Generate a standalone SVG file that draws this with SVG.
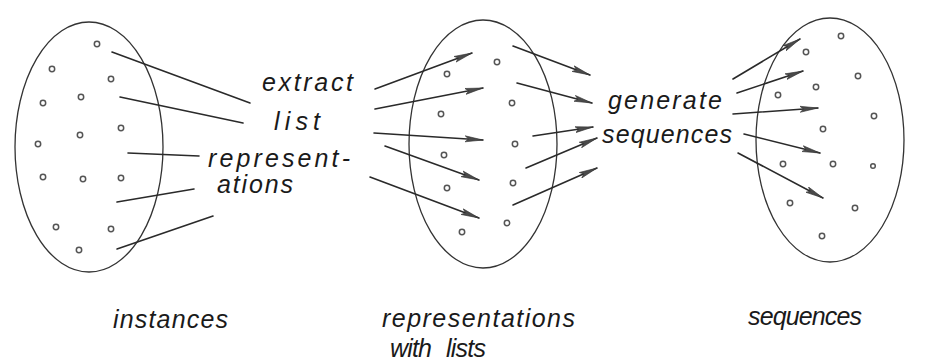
<svg xmlns="http://www.w3.org/2000/svg" width="927" height="364" viewBox="0 0 927 364">
  <style>
    .set { fill: none; stroke: #333; stroke-width: 1.3; }
    .pt { fill: #fff; stroke: #555; stroke-width: 1.5; }
    .ln { fill: none; stroke: #2a2a2a; stroke-width: 1.6; stroke-linecap: round; }
    .arr { marker-end: url(#head); }
    .lbl { font-family: "Liberation Sans", Arial, sans-serif; font-style: italic; font-size: 25px; fill: #1a1a1a; }
  </style>
  <defs>
    <marker id="head" markerUnits="userSpaceOnUse" markerWidth="19" markerHeight="8" viewBox="0 0 19 8" refX="18" refY="4" orient="auto">
      <path d="M0,1 L18,4 L0,7 L3.5,4 Z" fill="#4a4a4a" stroke="#333" stroke-width="0.6"/>
    </marker>
  </defs>

  <!-- set of instances -->
  <g id="instances">
    <ellipse class="set" cx="89" cy="147" rx="74" ry="125"/>
    <g>
      <circle class="pt" cx="97" cy="44" r="2.7"/>
      <circle class="pt" cx="52" cy="69" r="2.7"/>
      <circle class="pt" cx="111" cy="79" r="2.7"/>
      <circle class="pt" cx="43" cy="103" r="2.7"/>
      <circle class="pt" cx="81" cy="97" r="2.7"/>
      <circle class="pt" cx="121" cy="128" r="2.7"/>
      <circle class="pt" cx="80" cy="135" r="2.7"/>
      <circle class="pt" cx="38" cy="144" r="2.7"/>
      <circle class="pt" cx="43" cy="177" r="2.7"/>
      <circle class="pt" cx="83" cy="179" r="2.7"/>
      <circle class="pt" cx="121" cy="178" r="2.7"/>
      <circle class="pt" cx="56" cy="227" r="2.7"/>
      <circle class="pt" cx="111" cy="229" r="2.7"/>
      <circle class="pt" cx="79" cy="250" r="2.7"/>
    </g>
    <text class="lbl" x="113" y="328" textLength="115" lengthAdjust="spacing">instances</text>
  </g>

  <!-- set of representations with lists -->
  <g id="representations">
    <ellipse class="set" cx="483" cy="144" rx="74" ry="124"/>
    <g>
      <circle class="pt" cx="497" cy="62" r="2.7"/>
      <circle class="pt" cx="447" cy="74" r="2.7"/>
      <circle class="pt" cx="512" cy="103" r="2.7"/>
      <circle class="pt" cx="441" cy="114" r="2.7"/>
      <circle class="pt" cx="515" cy="144" r="2.7"/>
      <circle class="pt" cx="444" cy="155" r="2.7"/>
      <circle class="pt" cx="513" cy="183" r="2.7"/>
      <circle class="pt" cx="447" cy="188" r="2.7"/>
      <circle class="pt" cx="507" cy="223" r="2.7"/>
      <circle class="pt" cx="462" cy="232" r="2.7"/>
    </g>
    <text class="lbl" x="382" y="327" textLength="193" lengthAdjust="spacing">representations</text>
    <text class="lbl" x="390" y="357" textLength="42" lengthAdjust="spacing">with</text>
    <text class="lbl" x="446" y="357" textLength="40" lengthAdjust="spacing">lists</text>
  </g>

  <!-- set of sequences -->
  <g id="sequences">
    <ellipse class="set" cx="830" cy="140" rx="74" ry="122"/>
    <g>
      <circle class="pt" cx="841" cy="36" r="2.7"/>
      <circle class="pt" cx="806" cy="52" r="2.7"/>
      <circle class="pt" cx="858" cy="76" r="2.7"/>
      <circle class="pt" cx="816" cy="87" r="2.7"/>
      <circle class="pt" cx="778" cy="95" r="2.7"/>
      <circle class="pt" cx="874" cy="116" r="2.7"/>
      <circle class="pt" cx="823" cy="129" r="2.7"/>
      <circle class="pt" cx="833" cy="164" r="2.7"/>
      <circle class="pt" cx="783" cy="164" r="2.7"/>
      <circle class="pt" cx="873" cy="166" r="2.3"/>
      <circle class="pt" cx="790" cy="203" r="2.7"/>
      <circle class="pt" cx="855" cy="208" r="2.7"/>
      <circle class="pt" cx="822" cy="236" r="2.7"/>
    </g>
    <text class="lbl" x="748" y="325" textLength="114" lengthAdjust="spacing">sequences</text>
  </g>

  <!-- step: extract list representations -->
  <g id="extract-step">
    <text class="lbl" x="262" y="91" textLength="91" lengthAdjust="spacing">extract</text>
    <text class="lbl" x="274" y="130" textLength="46" lengthAdjust="spacing">list</text>
    <text class="lbl" x="208" y="167" textLength="142" lengthAdjust="spacing">represent-</text>
    <text class="lbl" x="217" y="193" textLength="76" lengthAdjust="spacing">ations</text>
  </g>

  <!-- step: generate sequences -->
  <g id="generate-step">
    <text class="lbl" x="608" y="109" textLength="114" lengthAdjust="spacing">generate</text>
    <text class="lbl" x="602" y="143" textLength="130" lengthAdjust="spacing">sequences</text>
  </g>

  <g id="connectors">
    <!-- instances to the extract step -->
    <line class="ln" x1="112" y1="52" x2="250" y2="103"/>
    <line class="ln" x1="120" y1="97" x2="243" y2="123"/>
    <line class="ln" x1="128" y1="153" x2="199" y2="156"/>
    <line class="ln" x1="117" y1="202" x2="194" y2="189"/>
    <line class="ln" x1="117" y1="249" x2="213" y2="216"/>
    <!-- extract step into representations -->
    <line class="ln arr" x1="375" y1="89" x2="472" y2="53"/>
    <line class="ln arr" x1="375" y1="109" x2="483" y2="88"/>
    <line class="ln arr" x1="374" y1="133" x2="483" y2="140"/>
    <line class="ln arr" x1="385" y1="146" x2="479" y2="180"/>
    <line class="ln arr" x1="370" y1="177" x2="479" y2="218"/>
    <!-- representations to the generate step -->
    <line class="ln arr" x1="513" y1="46" x2="590" y2="75"/>
    <line class="ln arr" x1="517" y1="83" x2="592" y2="103"/>
    <line class="ln arr" x1="533" y1="136" x2="593" y2="127"/>
    <line class="ln arr" x1="526" y1="168" x2="597" y2="138"/>
    <line class="ln arr" x1="513" y1="205" x2="597" y2="168"/>
    <!-- generate step into sequences -->
    <line class="ln arr" x1="733" y1="79" x2="800" y2="39"/>
    <line class="ln arr" x1="737" y1="93" x2="803" y2="71"/>
    <line class="ln arr" x1="733" y1="114" x2="818" y2="108"/>
    <line class="ln arr" x1="744" y1="134" x2="820" y2="153"/>
    <line class="ln arr" x1="738" y1="153" x2="823" y2="198"/>
  </g>
</svg>
